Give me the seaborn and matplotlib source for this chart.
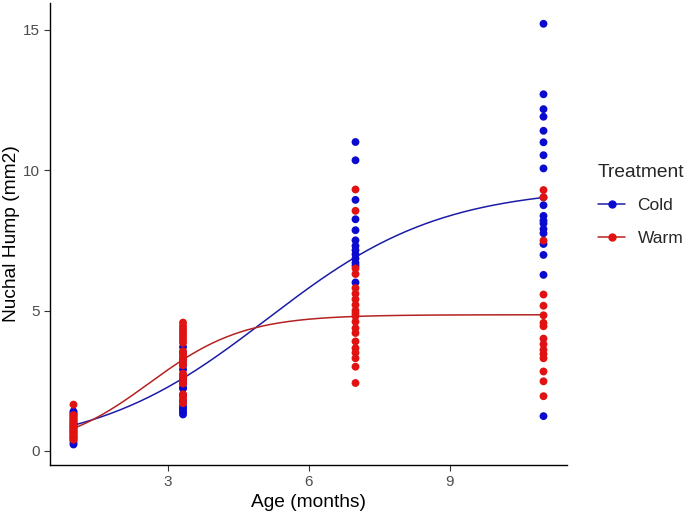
import numpy as np
import pandas as pd
import matplotlib
matplotlib.use("Agg")
import matplotlib.pyplot as plt
from matplotlib.lines import Line2D
import seaborn as sns

# ages (months) where animals were measured
ages = [1, 3.33, 7, 11]

# nuchal hump area (mm2), per age
cold_1 = [0.23, 0.30, 0.38, 0.47, 0.55, 0.64, 0.71, 0.80, 0.87, 0.95, 1.03, 1.12, 1.22, 1.30, 1.36, 1.41]
warm_1 = [0.40, 0.45, 0.50, 0.56, 0.62, 0.67, 0.72, 0.78, 0.83, 0.88, 0.93, 0.99, 1.04, 1.10, 1.16, 1.22, 1.28, 1.65]

cold_2 = [1.30, 1.38, 1.45, 1.52, 1.60, 1.78, 2.00, 2.22, 2.26, 2.40, 2.55, 2.90, 3.05, 3.25, 3.50, 3.70]
warm_2 = [1.70, 1.82, 1.92, 2.02, 2.40, 2.50, 2.60, 2.68, 2.75, 3.05, 3.15, 3.25, 3.35, 3.45, 3.55, 3.85,
          3.95, 4.05, 4.15, 4.25, 4.35, 4.45, 4.57]

cold_3 = [11.0, 10.35, 8.94, 8.25, 7.86, 7.5, 7.3, 7.15, 7.0, 6.85, 6.7, 6.6, 6.0]
warm_3 = [9.31, 8.55, 6.5, 6.3, 5.8, 5.6, 5.4, 5.2, 5.0, 4.9, 4.8, 4.6, 4.37, 4.2, 3.9, 3.66, 3.5, 3.3, 3.0, 2.42]

cold_4 = [15.21, 12.7, 12.17, 11.9, 11.4, 10.99, 10.53, 10.06, 9.03, 8.75, 8.37, 8.2, 8.1, 7.9, 7.75, 7.37,
          6.98, 6.27, 1.24]
warm_4 = [9.29, 9.03, 7.49, 5.57, 5.17, 4.83, 4.56, 4.44, 4.0, 3.8, 3.6, 3.45, 3.3, 2.83, 2.48, 1.95]

# logistic fits (Asym, xmid, scal) estimated from the drawn curves
cold_fit = [9.4, 5.12, 1.85]
warm_fit = [4.85, 2.62, 1.0]

treatments = ["Cold", "Warm"]
point_colors = {"Cold": "#0B0BD0", "Warm": "#E01212"}
line_colors = {"Cold": "#1C1CA8", "Warm": "#B52222"}

rows = []
for trt, groups in [("Cold", [cold_1, cold_2, cold_3, cold_4]),
                    ("Warm", [warm_1, warm_2, warm_3, warm_4])]:
    for age, vals in zip(ages, groups):
        for v in vals:
            rows.append({"Age": age, "Hump": v, "Treatment": trt})
df = pd.DataFrame(rows)

xs = np.linspace(ages[0], ages[-1], 200)
curves = []
for trt, (A, xm, s) in [("Cold", cold_fit), ("Warm", warm_fit)]:
    curves.append(pd.DataFrame({"Age": xs, "Hump": A / (1 + np.exp((xm - xs) / s)), "Treatment": trt}))
curve_df = pd.concat(curves)

sns.set_style("white")
plt.rcParams["font.family"] = ["Liberation Sans", "DejaVu Sans"]

fig, ax = plt.subplots(figsize=(6.85, 5.18), dpi=100)
fig.subplots_adjust(left=50 / 685, right=567 / 685, top=1 - 3 / 518, bottom=1 - 465 / 518)

sns.lineplot(data=curve_df, x="Age", y="Hump", hue="Treatment", palette=line_colors,
             linewidth=1.1, legend=False, ax=ax, zorder=2)
sns.scatterplot(data=df, x="Age", y="Hump", hue="Treatment", palette=point_colors,
                s=32, linewidth=0, legend=False, ax=ax, zorder=3)

ax.set_xlim(0.5, 11.5)
ax.set_ylim(-0.5, 15.95)
ax.set_xticks([3, 6, 9])
ax.set_yticks([0, 5, 10, 15])
ax.set_xlabel("Age (months)", fontsize=13.8, color="black", labelpad=3)
ax.set_ylabel("Nuchal Hump (mm2)", fontsize=13.8, color="black", labelpad=2)
ax.tick_params(axis="both", labelsize=11, labelcolor="#4D4D4D", color="#333333",
               length=4, width=0.8, direction="out", bottom=True, left=True)
for side in ["top", "right"]:
    ax.spines[side].set_visible(False)
for side in ["left", "bottom"]:
    ax.spines[side].set_color("black")
    ax.spines[side].set_linewidth(1.0)

handles = [Line2D([0], [0], color=line_colors[t], marker="o", markerfacecolor=point_colors[t],
                  markeredgecolor=point_colors[t], markersize=5, linewidth=1.1) for t in treatments]
leg = fig.legend(handles, treatments, title="Treatment", loc="upper left",
                 bbox_to_anchor=(582 / 685, 1 - 148 / 518), frameon=False,
                 fontsize=12.5, title_fontsize=13.8, handlelength=1.6, handletextpad=0.7,
                 labelspacing=1.0)
leg._legend_box.align = "left"

fig.savefig("out.png", dpi=100)
